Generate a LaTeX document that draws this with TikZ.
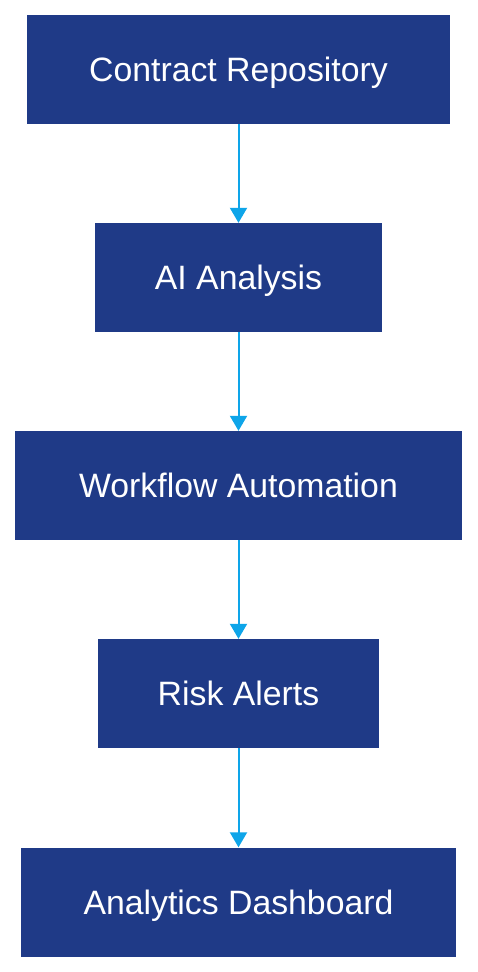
\documentclass[tikz,border=0pt]{standalone}
\usepackage{fontspec}
\setmainfont{Liberation Sans}
\usetikzlibrary{arrows.meta}
\definecolor{boxblue}{HTML}{1F3A87}
\definecolor{arrowblue}{HTML}{0EA5E9}
\begin{document}
\begin{tikzpicture}[x=1pt,y=-1pt,
  flowbox/.style={fill=boxblue,draw=none,minimum height=109pt,text=white,
    font=\fontsize{33.8}{40}\selectfont,inner sep=0pt,anchor=center,
    text height=24.3pt,text depth=0pt},
  flowarrow/.style={draw=arrowblue,line width=2pt,-{Triangle[width=17pt,length=15pt]}}]
\useasboundingbox (0,0) rectangle (478,972);
\fill[white] (0,0) rectangle (478,972);
\node[flowbox,minimum width=423pt] (cr) at (238.5,69.5) {Contract Repository};
\node[flowbox,minimum width=287pt] (ai) at (238.5,277.5) {AI Analysis};
\node[flowbox,minimum width=447pt] (wa) at (238.5,485.5) {Workflow Automation};
\node[flowbox,minimum width=281pt] (ra) at (238.5,693.5) {Risk Alerts};
\node[flowbox,minimum width=435pt] (ad) at (238.5,902) {Analytics Dashboard};
\draw[flowarrow] (cr) -- (ai);
\draw[flowarrow] (ai) -- (wa);
\draw[flowarrow] (wa) -- (ra);
\draw[flowarrow] (ra) -- (ad);
\end{tikzpicture}
\end{document}
